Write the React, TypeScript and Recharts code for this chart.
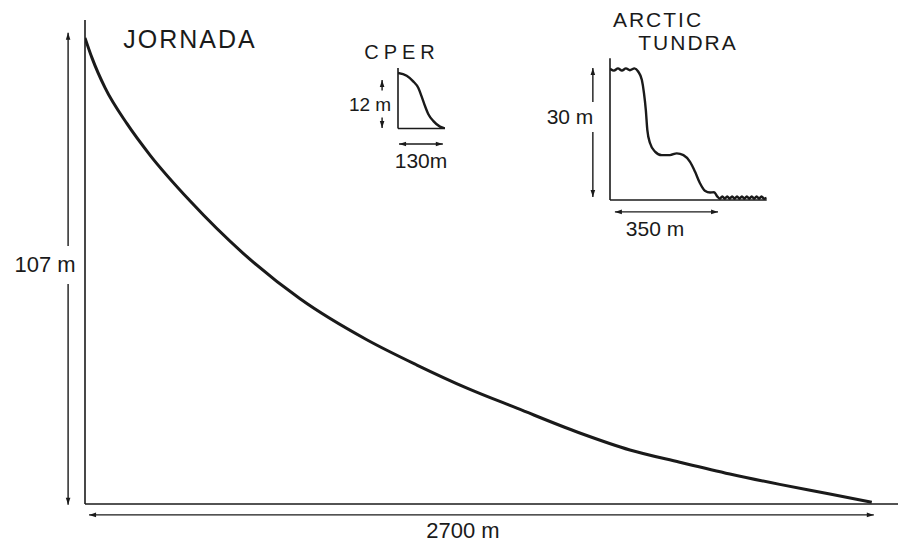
import { LineChart, Line, XAxis, YAxis, ReferenceLine } from 'recharts';

// Jornada profile (distance m, elevation m)
const jornadaX = [0, 24, 69, 144, 223, 360, 542, 738, 967, 1139, 1311, 1482, 1698, 1870, 2041, 2213, 2384, 2556, 2700];
const jornadaY = [107, 102.4, 95.5, 87.3, 80.1, 69.6, 57.6, 47.1, 37.7, 31.9, 26.6, 22.0, 16.3, 12.4, 9.6, 6.9, 4.5, 2.3, 0.4];

// CPER profile
const cperX = [0, 24, 42, 56, 65, 75, 84, 98, 116, 130];
const cperY = [12, 11.4, 10.2, 8.8, 7.0, 4.8, 3.1, 1.6, 0.4, 0];

// Arctic tundra profile
const arcticX = [
  0, 13, 26, 39, 52, 65, 80, 92, 104, 111, 117, 122, 131, 147, 169, 196, 218, 240, 261, 278, 294, 310, 327, 340, 351,
  359, 367, 375, 383, 391, 399, 407, 415, 423, 431, 439, 447, 455, 463, 471, 479, 487, 495, 503, 512,
];
const arcticY = [
  29.8, 29.4, 29.9, 29.4, 29.9, 29.5, 29.9, 29.2, 27.3, 24.3, 20.5, 15.9, 12.9, 11.0, 10.2, 10.2, 10.6, 10.2, 8.7, 6.4, 3.8, 2.1, 1.7, 1.75, 0.75,
  0.3, 0.8, 0.3, 0.8, 0.3, 0.8, 0.3, 0.8, 0.3, 0.8, 0.3, 0.8, 0.3, 0.8, 0.3, 0.8, 0.3, 0.8, 0.3, 0.5,
];

const toRows = (xs: number[], ys: number[]) => xs.map((x, i) => ({ x, y: ys[i] }));

const INK = '#1a1a1a';
const FONT = '"Liberation Sans", Arial, sans-serif';

function ArrowLine(props: any) {
  const { x1, y1, x2, y2 } = props;
  const dx = x2 - x1;
  const dy = y2 - y1;
  const len = Math.hypot(dx, dy) || 1;
  const ux = dx / len;
  const uy = dy / len;
  const head = (tx: number, ty: number, dirx: number, diry: number) => {
    const bx = tx - dirx * 7;
    const by = ty - diry * 7;
    const px = -diry * 2.3;
    const py = dirx * 2.3;
    return `M${tx},${ty}L${bx + px},${by + py}L${bx - px},${by - py}Z`;
  };
  return (
    <g>
      <line x1={x1} y1={y1} x2={x2} y2={y2} stroke={INK} strokeWidth={1.4} />
      <path d={head(x1, y1, -ux, -uy)} fill={INK} />
      <path d={head(x2, y2, ux, uy)} fill={INK} />
    </g>
  );
}

function Label({ text, x, y, size = 21, gap, spacing = 0 }: any) {
  return (
    <div
      style={{
        position: 'absolute',
        left: x,
        top: y,
        transform: 'translate(-50%, -50%)',
        fontFamily: FONT,
        fontSize: size,
        letterSpacing: spacing,
        color: INK,
        whiteSpace: 'nowrap',
        background: gap ? '#fff' : 'transparent',
        lineHeight: gap ? `${gap}px` : 'normal',
        padding: gap ? '0 3px' : 0,
      }}
    >
      {text}
    </div>
  );
}

const axisProps = { stroke: INK, strokeWidth: 1.6 };

export default function App() {
  return (
    <div style={{ position: 'absolute', left: 0, top: 0, width: 901, height: 546, background: '#fff' }}>
      {/* main Jornada profile */}
      <div style={{ position: 'absolute', left: 0, top: 0 }}>
        <LineChart width={901} height={546} data={toRows(jornadaX, jornadaY)} margin={{ top: 20, right: 3, bottom: 41, left: 84 }}>
          <XAxis dataKey="x" type="number" domain={[0, 2790]} allowDataOverflow height={1} tick={false} tickLine={false} axisLine={axisProps} />
          <YAxis type="number" domain={[0, 111.1]} allowDataOverflow width={1} tick={false} tickLine={false} axisLine={axisProps} />
          <ReferenceLine segment={[{ x: -58, y: -0.2 }, { x: -58, y: 108.2 }]} ifOverflow="visible" shape={ArrowLine} />
          <ReferenceLine segment={[{ x: 14, y: -2.5 }, { x: 2707, y: -2.5 }]} ifOverflow="visible" shape={ArrowLine} />
          <Line dataKey="y" type="monotone" stroke={INK} strokeWidth={3} dot={false} isAnimationActive={false} />
        </LineChart>
      </div>

      {/* CPER inset */}
      <div style={{ position: 'absolute', left: 340, top: 40 }}>
        <LineChart width={130} height={130} data={toRows(cperX, cperY)} margin={{ top: 28, right: 25, bottom: 40.5, left: 57 }}>
          <XAxis dataKey="x" type="number" domain={[0, 130]} allowDataOverflow height={1} tick={false} tickLine={false} axisLine={axisProps} />
          <YAxis type="number" domain={[0, 13.08]} allowDataOverflow width={1} tick={false} tickLine={false} axisLine={axisProps} />
          <ReferenceLine segment={[{ x: -44, y: 0.1 }, { x: -44, y: 10.5 }]} ifOverflow="visible" shape={ArrowLine} />
          <ReferenceLine segment={[{ x: 3, y: -3.35 }, { x: 124, y: -3.35 }]} ifOverflow="visible" shape={ArrowLine} />
          <Line dataKey="y" type="monotone" stroke={INK} strokeWidth={2.4} dot={false} isAnimationActive={false} />
        </LineChart>
      </div>

      {/* Arctic tundra inset */}
      <div style={{ position: 'absolute', left: 530, top: 0 }}>
        <LineChart width={250} height={250} data={toRows(arcticX, arcticY)} margin={{ top: 58.3, right: 13.3, bottom: 49, left: 79 }}>
          <XAxis dataKey="x" type="number" domain={[0, 512]} allowDataOverflow height={1} tick={false} tickLine={false} axisLine={axisProps} />
          <YAxis type="number" domain={[0, 32.2]} allowDataOverflow width={1} tick={false} tickLine={false} axisLine={axisProps} />
          <ReferenceLine segment={[{ x: -56, y: 0.7 }, { x: -56, y: 30 }]} ifOverflow="visible" shape={ArrowLine} />
          <ReferenceLine segment={[{ x: 16, y: -2.7 }, { x: 353, y: -2.7 }]} ifOverflow="visible" shape={ArrowLine} />
          <Line dataKey="y" type="monotone" stroke={INK} strokeWidth={2.4} dot={false} isAnimationActive={false} />
        </LineChart>
      </div>

      <Label text="JORNADA" x={190} y={39} size={25} spacing={2} />
      <Label text="107 m" x={45} y={265} size={22} gap={38} />
      <Label text="2700 m" x={463} y={531} size={22} />

      <Label text="CPER" x={402} y={52} size={20} spacing={5} />
      <Label text="12 m" x={370} y={104} size={19} gap={27} />
      <Label text="130m" x={421} y={161} size={21} />

      <Label text="ARCTIC" x={658} y={20} size={21} spacing={2} />
      <Label text="TUNDRA" x={688} y={43} size={21} spacing={2} />
      <Label text="30 m" x={570} y={117} size={21} gap={30} />
      <Label text="350 m" x={655} y={229} size={21} />
    </div>
  );
}
